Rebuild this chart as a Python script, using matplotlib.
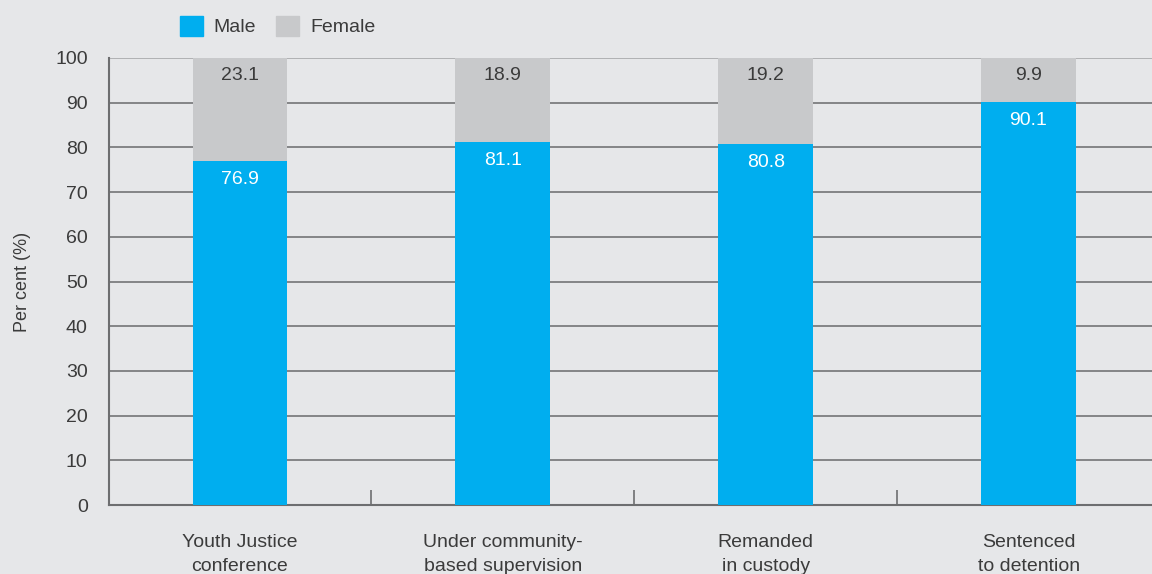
import matplotlib.pyplot as plt
from matplotlib.patches import Patch

categories = ['Youth Justice\nconference', 'Under community-\nbased supervision',
              'Remanded\nin custody', 'Sentenced\nto detention']
male = [76.9, 81.1, 80.8, 90.1]
female = [23.1, 18.9, 19.2, 9.9]

blue = '#00aeef'
grey = '#c8c9cb'
bg = '#e6e7e9'
txt = '#3b3b3b'

plt.rcParams['font.family'] = ['Liberation Sans', 'DejaVu Sans']

fig = plt.figure(figsize=(11.52, 5.74), dpi=100, facecolor=bg)
ax = fig.add_axes([108.5 / 1152, 69 / 574, (1160 - 108.5) / 1152, 447 / 574])
ax.set_facecolor(bg)

x = list(range(len(categories)))
ax.bar(x, male, width=0.36, color=blue, zorder=3)
ax.bar(x, female, width=0.36, bottom=male, color=grey, zorder=3)

for i in x:
    ax.text(i, male[i] - 2.2, f'{male[i]:.1f}', ha='center', va='top',
            color='white', fontsize=14, zorder=4)
    ax.text(i, 100 - 2.0, f'{female[i]:.1f}', ha='center', va='top',
            color=txt, fontsize=14, zorder=4)

ax.set_xlim(-0.5, 3.5)
ax.set_ylim(0, 100)
ax.set_yticks(range(0, 101, 10))
for y in range(10, 100, 10):
    ax.axhline(y, color='#737476', lw=1.2, zorder=1)
ax.axhline(100, color='#a7a8aa', lw=1.2, zorder=1)

# category labels sit between minor boundary ticks
ax.set_xticks(x)
ax.set_xticklabels(categories, fontsize=14, color=txt, linespacing=1.55)
ax.tick_params(axis='x', which='major', length=0, pad=21)
ax.set_xticks([0.5, 1.5, 2.5], minor=True)
ax.tick_params(axis='x', which='minor', direction='in', length=11,
               width=1.2, color='#6d6e70')
ax.tick_params(axis='y', length=0, pad=15, labelsize=14, labelcolor=txt)

for s in ['top', 'right']:
    ax.spines[s].set_visible(False)
for s in ['left', 'bottom']:
    ax.spines[s].set_color('#6d6e70')
    ax.spines[s].set_linewidth(1.5)

ax.set_ylabel('Per cent (%)', fontsize=13, color=txt, labelpad=17)

handles = [Patch(color=blue, label='Male'), Patch(color=grey, label='Female')]
fig.legend(handles=handles, loc='upper left', bbox_to_anchor=(162 / 1152, 1.003),
           ncol=2, frameon=False, fontsize=14, handlelength=1.2,
           handleheight=1.2, handletextpad=0.55, columnspacing=1.03,
           labelcolor=txt)

fig.savefig('out.png', dpi=100, facecolor=bg)
